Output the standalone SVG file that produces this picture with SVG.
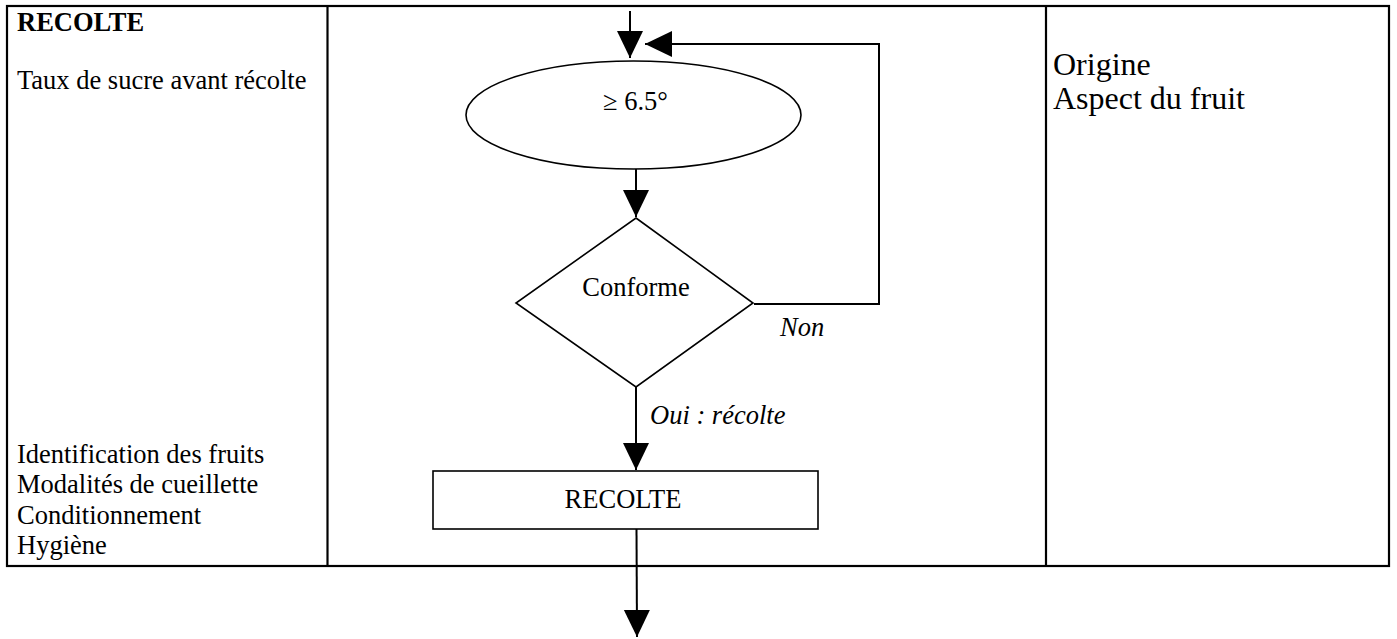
<svg xmlns="http://www.w3.org/2000/svg" width="1397" height="639" viewBox="0 0 1397 639">
<style>
  .t { font-family: "Liberation Serif", "Times New Roman", serif; font-size: 26.5px; fill: #000; }
  .big { font-size: 32px; }
  .b { font-weight: bold; }
  .i { font-style: italic; }
  .grid { stroke: #000; stroke-width: 2.2; fill: none; }
  .shape { stroke: #000; stroke-width: 1.6; fill: #fff; }
  .conn { stroke: #000; stroke-width: 2; fill: none; marker-end: url(#arr); }
</style>
<defs>
  <marker id="arr" markerUnits="userSpaceOnUse" markerWidth="28" markerHeight="28" refX="27" refY="13" orient="auto">
    <path d="M0,0 L27,13 L0,26 Z" fill="#000"/>
  </marker>
</defs>
<rect width="1397" height="639" fill="#fff"/>
<g id="table">
  <rect class="grid" x="7" y="6" width="1382" height="560"/>
  <line class="grid" x1="327.5" y1="6" x2="327.5" y2="566"/>
  <line class="grid" x1="1046" y1="6" x2="1046" y2="566"/>
</g>
<g id="left-col">
  <text class="t b" x="17" y="31">RECOLTE</text>
  <text class="t" x="17" y="89">Taux de sucre avant récolte</text>
  <text class="t" x="17" y="463">Identification des fruits</text>
  <text class="t" x="17" y="493">Modalités de cueillette</text>
  <text class="t" x="17" y="524">Conditionnement</text>
  <text class="t" x="17" y="554">Hygiène</text>
</g>
<g id="right-col">
  <text class="t big" x="1053" y="75">Origine</text>
  <text class="t big" x="1053" y="109">Aspect du fruit</text>
</g>
<g id="connectors">
  <line class="conn" x1="630" y1="11" x2="630" y2="58"/>
  <line class="conn" x1="636" y1="169" x2="636" y2="217"/>
  <polyline class="conn" points="754,304 879,304 879,44 645,44"/>
  <line class="conn" x1="636" y1="387" x2="636" y2="470"/>
  <line class="conn" x1="636.5" y1="529" x2="637" y2="637"/>
</g>
<g id="n-ellipse">
  <ellipse class="shape" cx="633.5" cy="115" rx="167.5" ry="54"/>
  <text class="t" x="603" y="110">≥ 6.5°</text>
</g>
<g id="n-diamond">
  <polygon class="shape" points="636,218 753,303 636,387 516,303"/>
  <text class="t" x="636" y="296" text-anchor="middle">Conforme</text>
</g>
<g id="labels">
  <text class="t i" x="780" y="336">Non</text>
  <text class="t i" x="650" y="424">Oui : récolte</text>
</g>
<g id="n-recolte">
  <rect class="shape" x="433" y="471" width="385" height="58"/>
  <text class="t" x="623" y="508" text-anchor="middle">RECOLTE</text>
</g>
</svg>
